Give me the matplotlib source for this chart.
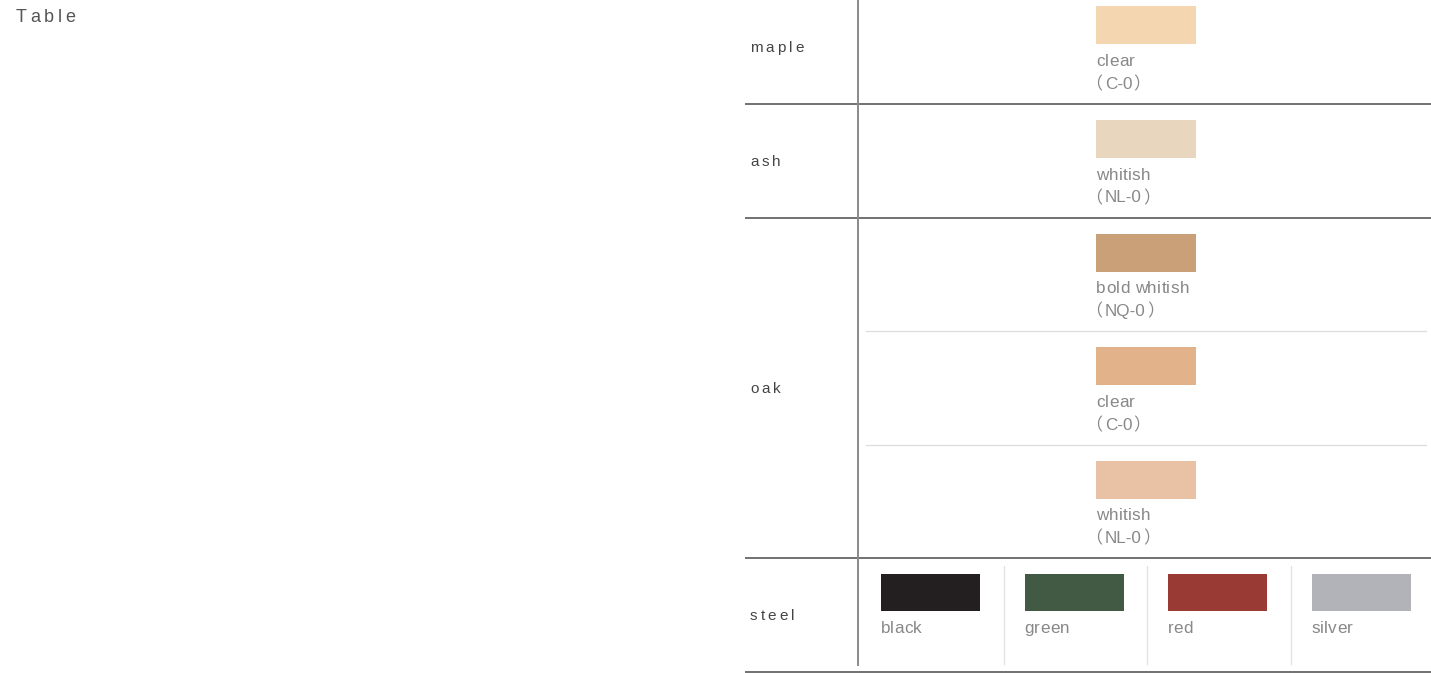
import matplotlib.pyplot as plt
from matplotlib.patches import Rectangle

# rows of the table
materials = ['maple', 'ash', 'oak', 'steel']
material_slots = [1, 1, 3, 1]

# wood finishes, one per slot
wood_finish = ['clear', 'whitish', 'bold whitish', 'clear', 'whitish']
wood_code = ['C-0', 'NL-0', 'NQ-0', 'C-0', 'NL-0']
wood_color = ['#F4D6B1', '#E9D6BE', '#C9A077', '#E2B38B', '#E9C2A5']

# steel colours, side by side in the last row
steel_finish = ['black', 'green', 'red', 'silver']
steel_color = ['#231F20', '#425944', '#9A3A35', '#B1B3B8']

W, H = 1431, 673
fig = plt.figure(figsize=(W / 100, H / 100), dpi=100)
ax = fig.add_axes([0, 0, 1, 1])
ax.set_xlim(0, W)
ax.set_ylim(H, 0)
ax.axis('off')
renderer = fig.canvas.get_renderer()

latin = 'Liberation Sans'
cjk = 'Noto Sans CJK JP'
lab_size = 12.3
lab_color = '#888888'


def spaced(x, y, s, size, color, track, family=latin):
    # matplotlib has no letter spacing, so place one char at a time
    for ch in s:
        t = ax.text(x, y, ch, fontsize=size, color=color, va='center', ha='left',
                    family=family)
        x += t.get_window_extent(renderer).width + track
    return x


def code_label(x, y, code):
    # full-width brackets come from the CJK font, the code from the latin one
    t = ax.text(x, y, '\uff08', fontsize=lab_size, color=lab_color, va='center',
                ha='left', family=cjk)
    x += t.get_window_extent(renderer).width + 2.5
    t = ax.text(x, y, code, fontsize=lab_size, color=lab_color, va='center',
                ha='left', family=latin)
    x += t.get_window_extent(renderer).width + 1.5
    ax.text(x, y, '\uff09', fontsize=lab_size, color=lab_color, va='center',
            ha='left', family=cjk)


spaced(16, 18, 'Table', 13, '#555555', 3.6)

# geometry of the table
slot_h = 113.6
top = 104 - slot_h
label_x = 750
line_x0 = 745
col_x = 858
swatch_x = 1096
swatch_w, swatch_h = 100, 38

n_slots = sum(material_slots)
slot_tops = [top + i * slot_h for i in range(n_slots + 1)]
row_start = 0
for mat, n in zip(materials, material_slots):
    y0 = slot_tops[row_start]
    y1 = slot_tops[row_start + n]
    spaced(label_x, (y0 + y1) / 2 + 1, mat, 11, '#444444', 3.0)
    ax.plot([line_x0, W], [y1, y1], color='#4a4a4a', lw=1.1, solid_capstyle='butt')
    row_start += n

# wood swatches
for i, (fin, code, c) in enumerate(zip(wood_finish, wood_code, wood_color)):
    y0 = slot_tops[i]
    ax.add_patch(Rectangle((swatch_x, y0 + 16), swatch_w, swatch_h, color=c, lw=0))
    spaced(swatch_x, y0 + 71, fin, lab_size, lab_color, 0.3)
    code_label(swatch_x - 11, y0 + 94, code)
    # light separator between oak finishes
    if i in (3, 4):
        ax.plot([866, 1426], [y0, y0], color='#dddddd', lw=0.9)

# steel row
steel_top = slot_tops[n_slots - 1]
col_w = 143.5
for j, (fin, c) in enumerate(zip(steel_finish, steel_color)):
    cx = 860 + j * col_w
    ax.add_patch(Rectangle((cx + 21, steel_top + 16), 99, 37, color=c, lw=0))
    spaced(cx + 20.5, steel_top + 70, fin, lab_size, lab_color, 0.3)
    if j > 0:
        ax.plot([cx, cx], [steel_top + 8, steel_top + 106], color='#e0e0e0', lw=0.9)

ax.plot([col_x, col_x], [0, 665], color='#8a8a8a', lw=1.4)

fig.savefig('out.png', dpi=100)
